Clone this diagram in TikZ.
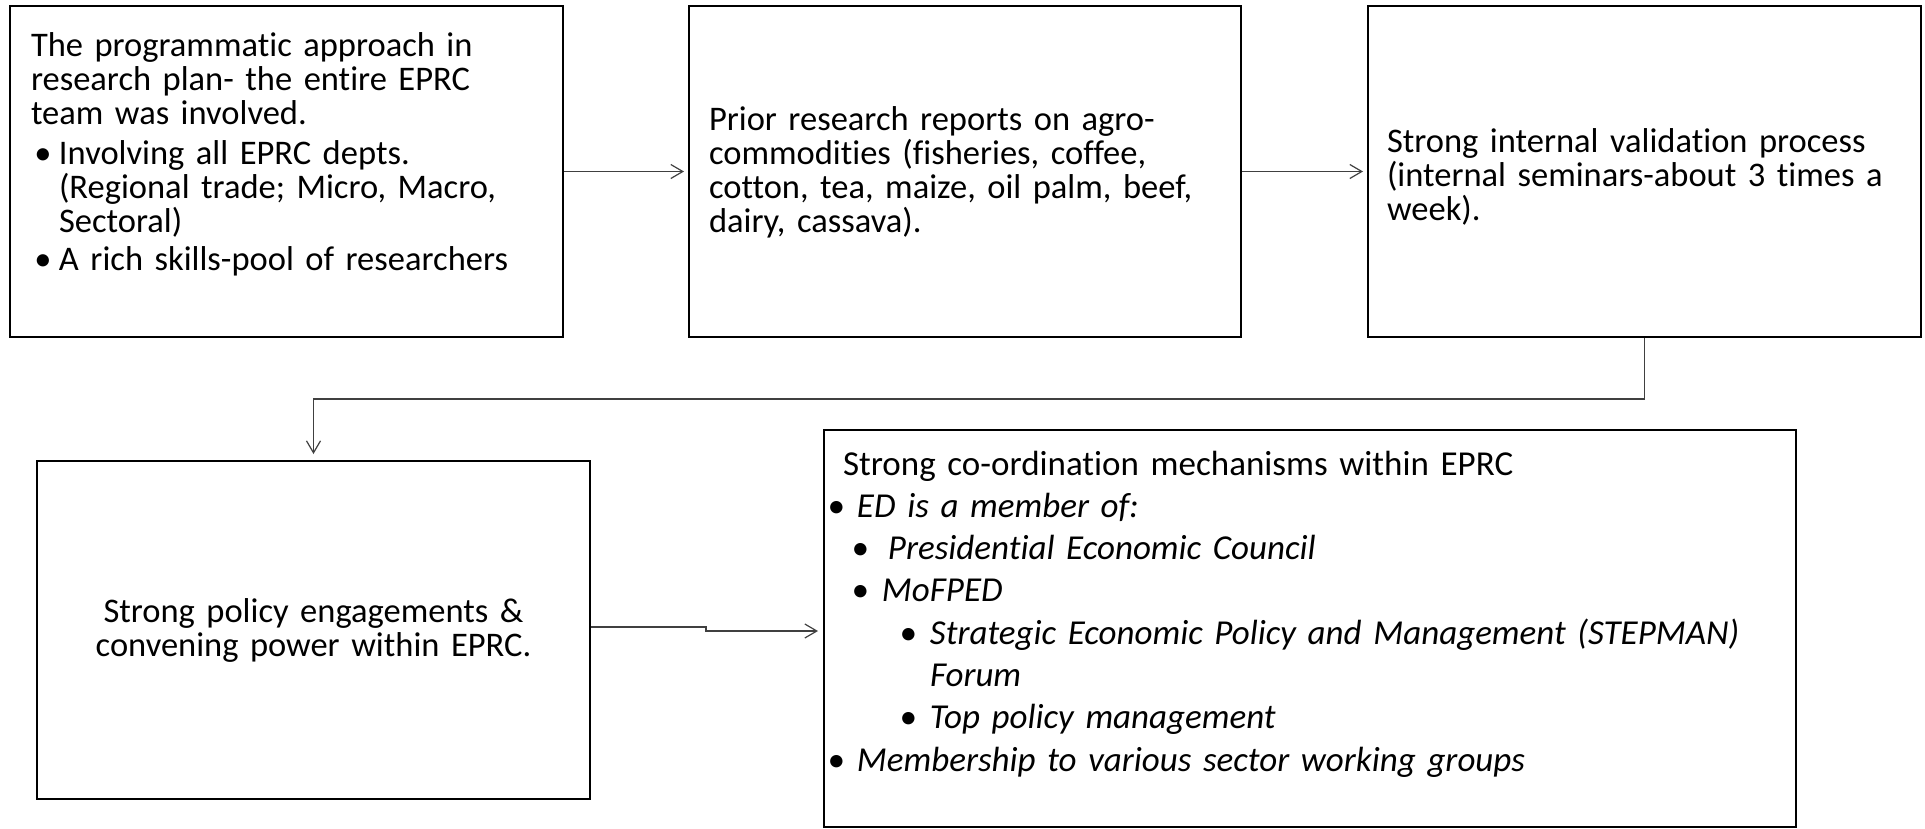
\documentclass[tikz,border=0pt]{standalone}
\usepackage{fontspec}
\setmainfont{Carlito}[Ligatures=NoCommon]
\usetikzlibrary{arrows.meta}

% bullet paragraph: #1 bullet centre offset, #2 hanging indent of the text, #3 text
\newcommand\bitem[3]{\par\hangindent=#2\hangafter=1\noindent
  \makebox[0pt][l]{\hspace*{#1}\makebox[0pt][c]{\textbullet}}\hspace*{#2}#3}

\begin{document}
\begin{tikzpicture}[x=1pt,y=-1pt,
  box/.style={draw=black, line width=2pt, rectangle, inner ysep=0pt,
    anchor=north west, align=left,
    font=\fontsize{34.5}{34}\selectfont,
    execute at begin node={\setlength{\parindent}{0pt}\setlength{\parskip}{0pt}}},
  conn/.style={line width=1.2pt, draw=black!75,
    -{Straight Barb[length=12pt,width=14pt]}}]

\fill[white] (0,0) rectangle (1925,828);
\useasboundingbox (0,0) rectangle (1925,828);

% top row
\node[box, inner xsep=21pt, text width=511pt, minimum width=553pt,
  text height=50pt, text depth=281pt, font=\fontsize{34.5}{34}\selectfont]
  (plan) at (9,5) {%
  The programmatic approach in\newline research plan- the entire EPRC\newline team was involved.\par\vspace{6pt}%
  \bitem{12pt}{28pt}{Involving all EPRC depts.\newline (Regional trade; Micro, Macro,\newline Sectoral)}\par\vspace{4pt}%
  \bitem{12pt}{28pt}{A rich skills-pool of researchers}};

\node[box, inner xsep=20pt, text width=512pt, minimum width=552pt,
  text height=124pt, text depth=207pt]
  (prior) at (688,5) {%
  Prior research reports on agro-\newline commodities (fisheries, coffee,\newline cotton, tea, maize, oil palm, beef,\newline dairy, cassava).};

\node[box, inner xsep=19pt, text width=515pt, minimum width=553pt,
  text height=146pt, text depth=185pt]
  (valid) at (1367,5) {%
  Strong internal validation process\newline (internal seminars-about 3 times a\newline week).};

% bottom row
\node[box, align=center, inner xsep=21pt, text width=511pt, minimum width=553pt, minimum height=338pt]
  (policy) at (36,460) {Strong policy engagements \&\\ convening power within EPRC.};

\node[box, inner xsep=19pt, text width=934pt, minimum width=972pt,
  text height=45pt, text depth=352pt,
  font=\fontsize{35}{42.3}\selectfont]
  (coord) at (823,429) {%
  Strong co-ordination mechanisms within EPRC%
  \itshape
  \bitem{-7pt}{14pt}{ED is a member of:}%
  \bitem{17pt}{39pt}{\hspace*{6pt}Presidential Economic Council}%
  \bitem{17pt}{39pt}{MoFPED}%
  \bitem{65pt}{87pt}{Strategic Economic Policy and Management (STEPMAN)\newline Forum}%
  \bitem{65pt}{87pt}{Top policy management}%
  \bitem{-7pt}{14pt}{Membership to various sector working groups}};

% connectors
\coordinate (rowgap) at (0,399);
\coordinate (jog) at (706,628);

\draw[conn, shorten >=4pt] (plan.east) -- (prior.west);
\draw[conn, shorten >=4pt] (prior.east) -- (valid.west);
\draw[conn, shorten >=6pt] (valid.south) -- (valid.south |- rowgap) -| (policy.north);
\draw[conn, shorten >=5pt] ([yshift=3pt]policy.east) -| (jog) |- ([yshift=-2.5pt]coord.west);
\end{tikzpicture}
\end{document}
